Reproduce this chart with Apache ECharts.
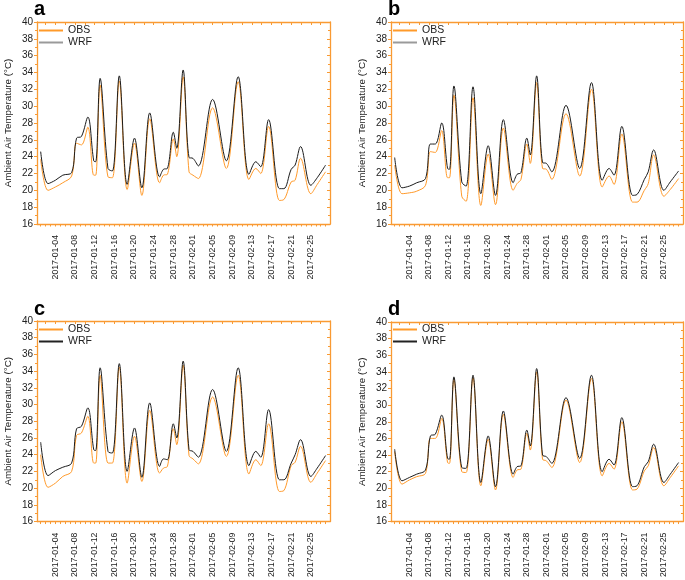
<!DOCTYPE html>
<html><head><meta charset="utf-8">
<script src="https://cdn.jsdelivr.net/npm/echarts@6/dist/echarts.min.js"></script>
<style>html,body{margin:0;padding:0;background:#fff}#c{width:685px;height:580px}</style>
</head><body><div id="c"></div>
<script>
// day offsets from 2017-01-01 (0 = 2017-01-01)
const keyDays = [0,1.5,3,4.5,6.3,7.3,8.3,9.6,10.8,11.2,12.1,13.7,14.6,16.0,17.6,19.1,20.6,22.2,24.2,25.0,25.8,27.0,27.7,29.0,30.2,31.0,32.1,35.0,37.8,40.2,42.4,43.8,44.8,46.4,48.6,49.5,51.0,51.8,52.9,55.0,56.3,58.0];

const obsA = [23.7,20.0,20.4,20.9,21.7,25.6,25.4,27.5,21.8,21.8,32.5,21.6,21.5,33.0,20.1,25.6,19.4,28.5,20.9,21.8,21.9,26.1,24.0,33.5,22.2,21.8,21.4,29.8,22.6,32.9,21.3,22.6,22.0,27.6,18.8,18.9,21.0,21.2,23.8,19.6,20.7,22.2];
const wrfA = [24.6,20.8,21.2,21.8,22.1,26.2,26.4,28.7,23.5,23.4,33.3,22.6,22.3,33.6,20.7,26.2,20.3,29.2,21.6,22.5,22.6,26.9,25.0,34.3,23.9,23.8,22.9,30.8,23.5,33.5,21.9,23.4,22.8,28.4,20.2,20.2,22.5,23.0,25.2,20.6,21.5,23.0];

const obsB = [23.0,19.6,19.7,19.9,20.6,24.6,24.5,27.1,21.5,21.5,31.3,19.3,18.7,31.0,18.2,24.3,18.3,27.4,20.0,20.8,21.3,25.5,23.2,32.8,22.6,22.5,21.3,29.1,21.7,32.0,20.4,21.7,20.7,26.7,18.6,18.6,20.0,20.8,24.2,19.3,20.1,21.4];
const wrfB = [23.9,20.3,20.5,20.9,21.4,25.5,25.5,28.0,22.6,22.5,32.4,21.0,20.5,32.3,19.6,25.3,19.4,28.4,20.9,21.9,22.1,26.2,24.2,33.6,23.3,23.2,22.2,30.1,22.6,32.8,21.2,22.6,21.8,27.6,19.4,19.5,21.3,22.2,24.8,20.0,21.0,22.3];

const obsC = [24.0,20.1,20.6,21.4,22.0,26.3,26.6,28.6,23.0,23.0,33.5,23.0,23.0,34.5,20.6,26.2,20.8,29.3,21.8,22.4,22.6,27.1,25.2,34.7,23.9,23.5,22.9,30.9,23.8,33.5,21.7,23.4,22.7,27.7,19.6,19.7,22.7,23.1,25.0,20.7,21.8,23.3];
const wrfC = [25.5,21.5,22.1,22.5,23.0,27.1,27.4,29.6,24.6,24.5,34.4,24.4,24.2,34.9,22.0,27.2,21.3,30.2,22.6,23.5,23.4,27.7,26.0,35.2,24.6,24.4,23.7,31.8,24.4,34.4,22.7,24.4,23.7,29.4,21.0,21.0,23.0,24.0,25.8,21.4,22.4,23.9];

const obsD = [24.4,20.5,21.0,21.4,21.8,26.0,26.0,28.4,23.1,23.0,33.1,22.0,21.9,33.3,20.3,25.9,19.8,28.9,21.3,22.2,22.3,26.6,24.6,34.0,23.5,23.3,22.5,30.6,23.1,33.2,21.5,23.0,22.3,28.0,19.8,19.9,22.1,22.7,24.9,20.3,21.3,22.7];
const wrfD = [24.7,20.9,21.3,21.7,22.2,26.3,26.5,28.8,23.6,23.5,33.4,22.5,22.4,33.6,20.7,26.3,20.2,29.3,21.7,22.6,22.7,27.0,25.1,34.4,24.0,23.8,23.0,30.9,23.6,33.6,22.0,23.5,22.8,28.5,20.2,20.3,22.6,23.2,25.3,20.7,21.7,23.1];

// x tick labels (day offsets) and tick positions
const labelDays = [3,7,11,15,19,23,27,31,35,39,43,47,51,55];
const bottomTickDays = [0,1,2,3,4,5,6,7,8,9,10,11,12,13,14,15,16,17,18,19,20,21,22,23,24,25,26,27,28,29,30,31,32,33,34,35,36,37,38,39,40,41,42,43,44,45,46,47,48,49,50,51,52,53,54,55,56,57,58];
const topTickDays = [1,3,5,7,9,11,13,15,17,19,21,23,25,27,29,31,33,35,37,39,41,43,45,47,49,51,53,55,57];
const panelLetters = ['a','b','c','d'];
const seriesNames = ['OBS','WRF'];
const yName = 'Ambient Air Temperature (\u00b0C)';

const panels = [
  {obs: obsA, wrf: wrfA, grid:{left:37, top:22, width:293, height:202}, letter:{left:34, top:-1}, legend:{left:39, top:25}, wrfLegend:'#9a9a9a'},
  {obs: obsB, wrf: wrfB, grid:{left:391, top:22, width:292, height:202}, letter:{left:388, top:-1}, legend:{left:393, top:25}, wrfLegend:'#9a9a9a'},
  {obs: obsC, wrf: wrfC, grid:{left:37, top:321, width:293, height:202}, letter:{left:34, top:299}, legend:{left:39, top:324}, wrfLegend:'#222'},
  {obs: obsD, wrf: wrfD, grid:{left:391, top:322, width:292, height:201}, letter:{left:388, top:299}, legend:{left:393, top:324}, wrfLegend:'#222'}
];

const ORANGE = '#f99a33';
const OBS_COLOR = '#ff9a2a';
const WRF_COLOR = '#1c1c1c';
const FONT = 'Liberation Sans, Arial, sans-serif';
const XMIN = -0.75, XMAX = 58.9;

function fmt(d){
  const t = new Date(Date.UTC(2017,0,1) + Math.round(d)*864e5);
  return t.getUTCFullYear() + '-' + String(t.getUTCMonth()+1).padStart(2,'0') + '-' + String(t.getUTCDate()).padStart(2,'0');
}

const grid = [], xAxis = [], yAxis = [], series = [], legend = [], title = [];
panels.forEach((p, i) => {
  grid.push(Object.assign({containLabel:false}, p.grid));
  xAxis.push({
    type:'value', gridIndex:i, position:'bottom', min:XMIN, max:XMAX,
    splitLine:{show:false},
    axisLine:{show:true, onZero:false, lineStyle:{color:ORANGE, width:1.3}},
    axisTick:{show:true, inside:false, length:2.5, customValues:bottomTickDays, lineStyle:{color:ORANGE, width:1}},
    axisLabel:{show:true, rotate:90, margin:11, customValues:labelDays, formatter:fmt, fontSize:8.7, color:'#222', fontFamily:FONT}
  });
  xAxis.push({
    type:'value', gridIndex:i, position:'top', min:XMIN, max:XMAX,
    splitLine:{show:false},
    axisLine:{show:true, onZero:false, lineStyle:{color:ORANGE, width:1.3}},
    axisTick:{show:true, inside:true, length:3, customValues:topTickDays, lineStyle:{color:ORANGE, width:1}},
    axisLabel:{show:false}
  });
  yAxis.push({
    type:'value', gridIndex:i, position:'left', min:16, max:40, interval:2,
    splitLine:{show:false},
    axisLine:{show:true, onZero:false, lineStyle:{color:ORANGE, width:1.3}},
    axisTick:{show:true, inside:false, length:3, lineStyle:{color:ORANGE, width:1}},
    minorTick:{show:true, splitNumber:2, length:2, lineStyle:{color:ORANGE, width:1}},
    axisLabel:{fontSize:10, margin:4, color:'#222', fontFamily:FONT},
    name:yName, nameLocation:'middle', nameGap:24,
    nameTextStyle:{fontSize:9.8, color:'#222', fontFamily:FONT}
  });
  yAxis.push({
    type:'value', gridIndex:i, position:'right', min:16, max:40, interval:2,
    splitLine:{show:false},
    axisLine:{show:true, onZero:false, lineStyle:{color:ORANGE, width:1.3}},
    axisTick:{show:true, inside:true, length:3, lineStyle:{color:ORANGE, width:1}},
    minorTick:{show:true, splitNumber:2, length:2, lineStyle:{color:ORANGE, width:1}},
    axisLabel:{show:false}
  });
  series.push({
    type:'line', name:seriesNames[0], xAxisIndex:2*i, yAxisIndex:2*i,
    data:keyDays.map((d,k)=>[d, p.obs[k]]),
    smooth:0.35, symbol:'none', showSymbol:false,
    lineStyle:{color:OBS_COLOR, width:1}, itemStyle:{color:OBS_COLOR}, z:2
  });
  series.push({
    type:'line', name:seriesNames[1], xAxisIndex:2*i, yAxisIndex:2*i,
    data:keyDays.map((d,k)=>[d, p.wrf[k]]),
    smooth:0.35, symbol:'none', showSymbol:false,
    lineStyle:{color:WRF_COLOR, width:1}, itemStyle:{color:WRF_COLOR}, z:3
  });
  legend.push({
    orient:'vertical', left:p.legend.left, top:p.legend.top, padding:0,
    itemWidth:24, itemHeight:2, itemGap:1, icon:'rect', selectedMode:false,
    textStyle:{fontSize:10.5, color:'#222', fontFamily:FONT, lineHeight:11},
    data:[{name:seriesNames[0], itemStyle:{color:OBS_COLOR}}, {name:seriesNames[1], itemStyle:{color:p.wrfLegend}}]
  });
  title.push({
    text:panelLetters[i], left:p.letter.left, top:p.letter.top, padding:0,
    textStyle:{fontSize:20, fontWeight:'bold', color:'#000', fontFamily:FONT}
  });
});

const chart = echarts.init(document.getElementById('c'), null, {renderer:'canvas'});
chart.setOption({backgroundColor:'#fff', animation:false, title, legend, grid, xAxis, yAxis, series});
</script>
</body></html>
